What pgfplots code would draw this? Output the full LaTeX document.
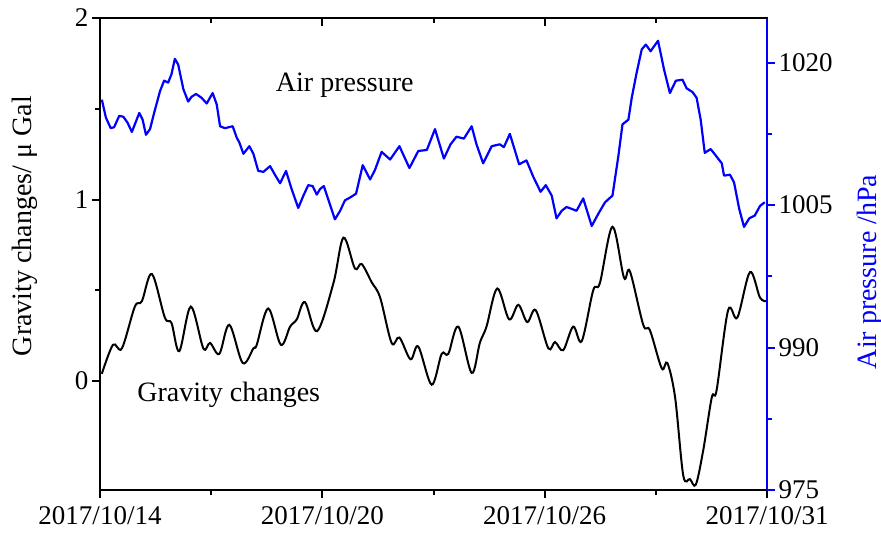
\documentclass[border=0pt]{standalone}
\usepackage{fontspec}
\setmainfont{Liberation Serif}
\usepackage{pgfplots}
\usepackage{pgfplotstable}
\pgfplotsset{compat=1.18}

% gravity changes (day since 2017/10/14 00:00, microGal)
\pgfplotstableread{
d g
0.05 0.04
0.35 0.20
0.59 0.18
0.94 0.41
1.13 0.44
1.40 0.59
1.75 0.35
1.93 0.32
2.14 0.165
2.45 0.41
2.79 0.18
2.97 0.21
3.22 0.15
3.49 0.31
3.85 0.10
4.14 0.18
4.23 0.20
4.54 0.40
4.88 0.20
5.13 0.30
5.31 0.34
5.53 0.435
5.86 0.275
6.30 0.54
6.57 0.79
6.88 0.62
7.06 0.645
7.33 0.545
7.56 0.46
7.87 0.21
8.08 0.24
8.38 0.12
8.59 0.19
8.95 -0.02
9.22 0.15
9.40 0.15
9.67 0.30
10.03 0.045
10.25 0.21
10.43 0.30
10.72 0.51
11.04 0.34
11.29 0.42
11.53 0.325
11.76 0.39
12.10 0.18
12.28 0.215
12.50 0.17
12.77 0.30
13.00 0.22
13.31 0.50
13.49 0.54
13.83 0.85
14.14 0.57
14.30 0.605
14.66 0.31
14.84 0.28
15.16 0.07
15.31 0.10
15.52 -0.09
15.74 -0.52
15.92 -0.54
16.08 -0.57
16.28 -0.38
16.51 -0.09
16.64 -0.05
16.95 0.39
17.20 0.35
17.54 0.60
17.81 0.46
17.99 0.44
}\gravtable

% air pressure (day, hPa)
\pgfplotstableread{
d p
0.05 1016.1
0.16 1014.2
0.29 1013.1
0.38 1013.2
0.52 1014.4
0.63 1014.3
0.74 1013.7
0.86 1012.7
0.94 1013.5
1.06 1014.7
1.15 1014.0
1.24 1012.4
1.35 1013.0
1.46 1014.7
1.62 1017.0
1.73 1018.1
1.84 1017.9
1.93 1018.8
2.02 1020.4
2.11 1019.8
2.25 1017.2
2.38 1015.9
2.47 1016.4
2.59 1016.7
2.74 1016.3
2.88 1015.7
3.04 1016.8
3.15 1015.6
3.24 1013.3
3.37 1013.1
3.58 1013.3
3.69 1012.1
3.76 1011.6
3.87 1010.4
4.03 1011.2
4.14 1010.4
4.27 1008.6
4.41 1008.5
4.59 1009.1
4.72 1008.2
4.86 1007.3
5.02 1008.6
5.17 1006.7
5.35 1004.7
5.49 1006.0
5.62 1007.1
5.74 1007.0
5.85 1006.1
5.94 1006.7
6.04 1007.0
6.16 1005.6
6.34 1003.5
6.48 1004.4
6.61 1005.5
6.75 1005.8
6.91 1006.2
7.09 1009.2
7.29 1007.7
7.42 1008.7
7.60 1010.6
7.83 1009.8
8.08 1011.2
8.35 1008.9
8.59 1010.7
8.82 1010.8
9.04 1013.0
9.28 1009.9
9.46 1011.4
9.62 1012.2
9.82 1012.0
10.03 1013.3
10.16 1011.4
10.34 1009.4
10.57 1011.2
10.79 1011.4
10.90 1011.1
11.06 1012.5
11.31 1009.3
11.51 1009.7
11.69 1008.0
11.89 1006.4
12.03 1007.1
12.19 1006.0
12.32 1003.6
12.46 1004.4
12.59 1004.8
12.73 1004.6
12.86 1004.4
13.04 1005.7
13.27 1002.8
13.45 1004.1
13.63 1005.3
13.83 1006.0
13.99 1010.2
14.10 1013.5
14.26 1014.0
14.35 1016.3
14.48 1018.9
14.62 1021.4
14.73 1021.9
14.86 1021.2
14.93 1021.6
15.06 1022.3
15.22 1019.3
15.38 1016.8
15.54 1018.1
15.72 1018.2
15.83 1017.3
15.99 1016.9
16.10 1016.3
16.21 1014.0
16.32 1010.5
16.48 1010.9
16.62 1010.2
16.78 1009.4
16.84 1008.1
17.00 1008.2
17.11 1007.4
17.25 1004.6
17.38 1002.7
17.52 1003.6
17.67 1003.9
17.81 1004.9
17.94 1005.3
}\prestable

\begin{document}
\begin{tikzpicture}[x=1pt,y=1pt]
\pgfplotsset{
  common/.style={
    scale only axis, width=667pt, height=472pt,
    at={(0,0)}, anchor=south west,
    xmin=0, xmax=18,
    tick label style={font=\fontsize{27}{30}\selectfont},
    /pgf/number format/assume math mode=true,
    /pgf/number format/1000 sep={},
    major tick length=8pt, minor tick length=5pt,
  }
}
% top edge with inward ticks
\begin{axis}[common,
  axis line style={line width=2.6pt, black},
  every tick/.style={line width=2pt, black},
  ymin=0, ymax=1, ytick=\empty,
  xtick pos=upper, tick align=inside,
  xtick={0,6,12,18}, minor x tick num=1,
  xticklabels={},
]
\addplot[draw=none, forget plot] coordinates {(0,0.5) (18,0.5)};
\end{axis}
% gravity axis (left and bottom lines, outward ticks)
\begin{axis}[common,
  axis y line*=left, axis x line*=bottom,
  x axis line style={black, line width=2.6pt, -},
  y axis line style={black, line width=2.6pt, -},
  every tick/.style={line width=2pt, black},
  tick align=outside,
  ymin=-0.6, ymax=2,
  ytick={0,1,2}, minor y tick num=1,
  xtick={0,6,12,18}, minor x tick num=1,
  xticklabels={2017/10/14,2017/10/20,2017/10/26,2017/10/31},
  xticklabel style={yshift=-5pt},
  ylabel={Gravity changes/ μ Gal},
  every axis y label/.style={at={(axis description cs:-0.112,0.559)}, anchor=center, rotate=90,
    font=\fontsize{28}{30}\selectfont},
]
\addplot[black, line width=2pt, smooth, tension=0.55] table[x=d, y=g] {\gravtable};
\node[font=\fontsize{28}{30}\selectfont] at (axis description cs:0.367,0.858) {Air pressure};
\node[font=\fontsize{28}{30}\selectfont] at (axis description cs:0.193,0.201) {Gravity changes};
\end{axis}
% pressure axis (right)
\begin{axis}[common,
  axis x line=none, axis y line*=right,
  tick align=outside,
  ymin=975, ymax=1024.7,
  ytick={975,990,1005,1020}, minor y tick num=1,
  y axis line style={blue, line width=2.6pt, -},
  every tick/.style={blue, line width=2pt},
  ylabel={Air pressure /hPa},
  every axis y label/.style={at={(axis description cs:1.154,0.462)}, anchor=center, rotate=90,
    font=\fontsize{28}{30}\selectfont, text=blue},
]
\addplot[blue, line width=2.2pt, line join=round] table[x=d, y=p] {\prestable};
\end{axis}
\draw[black, line width=2.6pt] (-1.3,472) -- (667,472);
\pgfresetboundingbox
\useasboundingbox (-100,-43) rectangle (781,490);
\end{tikzpicture}
\end{document}
